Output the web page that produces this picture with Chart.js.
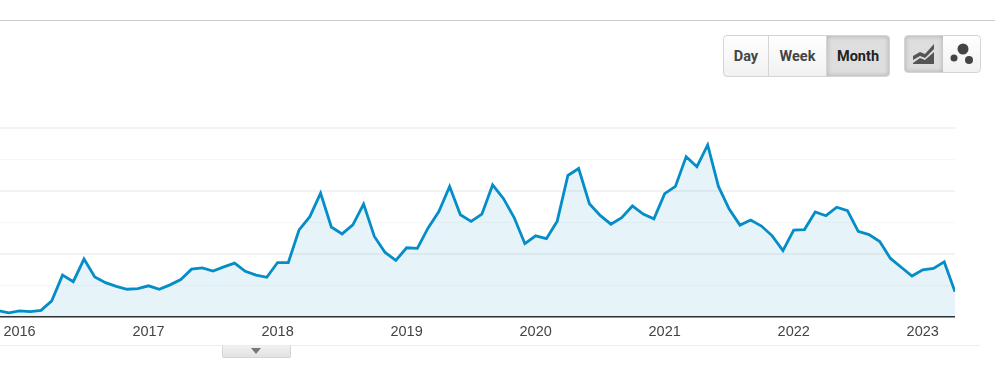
<!DOCTYPE html>
<html>
<head>
<meta charset="utf-8">
<script src="https://cdn.jsdelivr.net/npm/chart.js@4"></script>
<style>
  html, body { margin: 0; padding: 0; background: #fff; overflow: hidden; }
  body { width: 995px; height: 388px; position: relative; font-family: "Liberation Sans", Arial, sans-serif; }
  #chart { position: absolute; left: -2px; top: 120px; }
  .top-rule { position: absolute; left: 0; top: 20px; width: 995px; height: 1px; background: #ccc; }
  .bottom-rule { position: absolute; left: 0; top: 345px; width: 980px; height: 1px; background: #eee; }
  .handle { position: absolute; left: 222px; top: 346px; width: 67px; height: 11px; background: linear-gradient(#f1f1f1, #e2e2e2); border: 1px solid #d4d4d4; border-top: 0; border-radius: 0 0 2px 2px; }
  .handle:after { content: ''; position: absolute; left: 28px; top: 2px; border: 5px solid transparent; border-top: 6px solid #777; border-bottom: 0; }
  .group { position: absolute; top: 35px; display: flex; box-sizing: border-box; border: 1px solid #d5d5d5; border-radius: 4px; overflow: hidden; background: linear-gradient(#fff, #f1f1f1); }
  .range { left: 723px; width: 167px; height: 42px; }
  .kind { left: 904px; width: 77px; height: 38px; }
  .btn { display: flex; align-items: center; justify-content: center; box-sizing: border-box; font: bold 14.5px Roboto, "Liberation Sans", sans-serif; color: #444; border-right: 1px solid #d5d5d5; }
  .btn:last-child { border-right: 0; }
  .on { background: #dedede; box-shadow: inset 0 0 5px #aaa; color: #222; border-right: 0; }
</style>
</head>
<body>
<div class="top-rule"></div>
<div class="group range">
  <div class="btn" style="width:45px">Day</div>
  <div class="btn" style="width:58px">Week</div>
  <div class="btn on" style="width:62px">Month</div>
</div>
<div class="group kind">
  <div class="btn on" style="width:38px">
    <svg width="24" height="22" viewBox="0 0 24 22"><path d="M1 13 L8 9 L13 11 L22 1 L22 6 L13 15 L8 13 L1 17Z M1 20 L8 15 L13 17 L22 9 L22 21 L1 21Z" fill="#555"/></svg>
  </div>
  <div class="btn" style="width:37px">
    <svg width="26" height="24" viewBox="0 0 26 24"><circle cx="14" cy="7" r="5.5" fill="#444"/><circle cx="5" cy="16" r="3.5" fill="#444"/><circle cx="20" cy="18" r="4" fill="#444"/></svg>
  </div>
</div>
<canvas id="chart" width="957" height="220"></canvas>
<div class="bottom-rule"></div>
<div class="handle"></div>

<script>
'use strict'

// one point per month, Nov 2015 to Apr 2023
const months = [
  '2015-11', '2015-12',
  '2016-01', '2016-02', '2016-03', '2016-04', '2016-05', '2016-06', '2016-07', '2016-08', '2016-09', '2016-10', '2016-11', '2016-12',
  '2017-01', '2017-02', '2017-03', '2017-04', '2017-05', '2017-06', '2017-07', '2017-08', '2017-09', '2017-10', '2017-11', '2017-12',
  '2018-01', '2018-02', '2018-03', '2018-04', '2018-05', '2018-06', '2018-07', '2018-08', '2018-09', '2018-10', '2018-11', '2018-12',
  '2019-01', '2019-02', '2019-03', '2019-04', '2019-05', '2019-06', '2019-07', '2019-08', '2019-09', '2019-10', '2019-11', '2019-12',
  '2020-01', '2020-02', '2020-03', '2020-04', '2020-05', '2020-06', '2020-07', '2020-08', '2020-09', '2020-10', '2020-11', '2020-12',
  '2021-01', '2021-02', '2021-03', '2021-04', '2021-05', '2021-06', '2021-07', '2021-08', '2021-09', '2021-10', '2021-11', '2021-12',
  '2022-01', '2022-02', '2022-03', '2022-04', '2022-05', '2022-06', '2022-07', '2022-08', '2022-09', '2022-10', '2022-11', '2022-12',
  '2023-01', '2023-02', '2023-03', '2023-04'
]

const sessions = [
  19, 12,
  18, 16, 20, 50, 132, 111, 183, 126, 108, 96, 87, 89,
  98, 87, 101, 118, 151, 155, 145, 158, 170, 144, 132, 125,
  172, 172, 276, 318, 393, 285, 263, 292, 358, 255, 204, 179,
  219, 217, 282, 334, 414, 324, 303, 326, 419, 376, 315, 232,
  257, 248, 303, 449, 471, 359, 322, 294, 315, 352, 326, 311,
  391, 414, 509, 477, 546, 414, 342, 291, 307, 288, 257, 210,
  275, 277, 333, 321, 348, 337, 271, 261, 239, 185, 157, 129,
  149, 153, 174, 79
]

const yMax = 600
const yStep = 100

new Chart(document.getElementById('chart'), {
  type: 'line',
  data: {
    labels: months,
    datasets: [{
      data: sessions,
      borderColor: '#058dc7',
      borderWidth: 2.8,
      borderJoinStyle: 'miter',
      backgroundColor: 'rgba(5, 141, 199, 0.1)',
      fill: 'origin',
      tension: 0,
      pointRadius: 0
    }]
  },
  options: {
    responsive: false,
    animation: false,
    layout: { padding: { top: 8, bottom: 0, left: 0, right: 0 } },
    plugins: {
      legend: { display: false },
      tooltip: { enabled: false }
    },
    scales: {
      x: {
        offset: false,
        grid: { display: false },
        border: { color: '#333', width: 1.5 },
        ticks: {
          autoSkip: false,
          maxRotation: 0,
          padding: -1,
          color: '#444',
          font: { family: '"Liberation Sans"', size: 14.5 },
          // only January gets a label, and it is just the year
          callback: function (val) {
            const m = this.getLabelForValue(val)
            return m.endsWith('-01') ? m.slice(0, 4) : ''
          }
        }
      },
      y: {
        min: 0,
        max: yMax,
        afterFit: s => { s.width = 0 },
        ticks: { display: false, stepSize: yStep },
        border: { display: false },
        grid: {
          drawTicks: false,
          // every second line is the stronger one
          color: ctx => ctx.tick.value % 200 === 0 ? 'rgba(0, 0, 0, 0.05)' : 'rgba(0, 0, 0, 0.03)',
          lineWidth: ctx => ctx.tick.value % 200 === 0 ? 2 : 1
        }
      }
    }
  }
})
</script>
</body>
</html>
